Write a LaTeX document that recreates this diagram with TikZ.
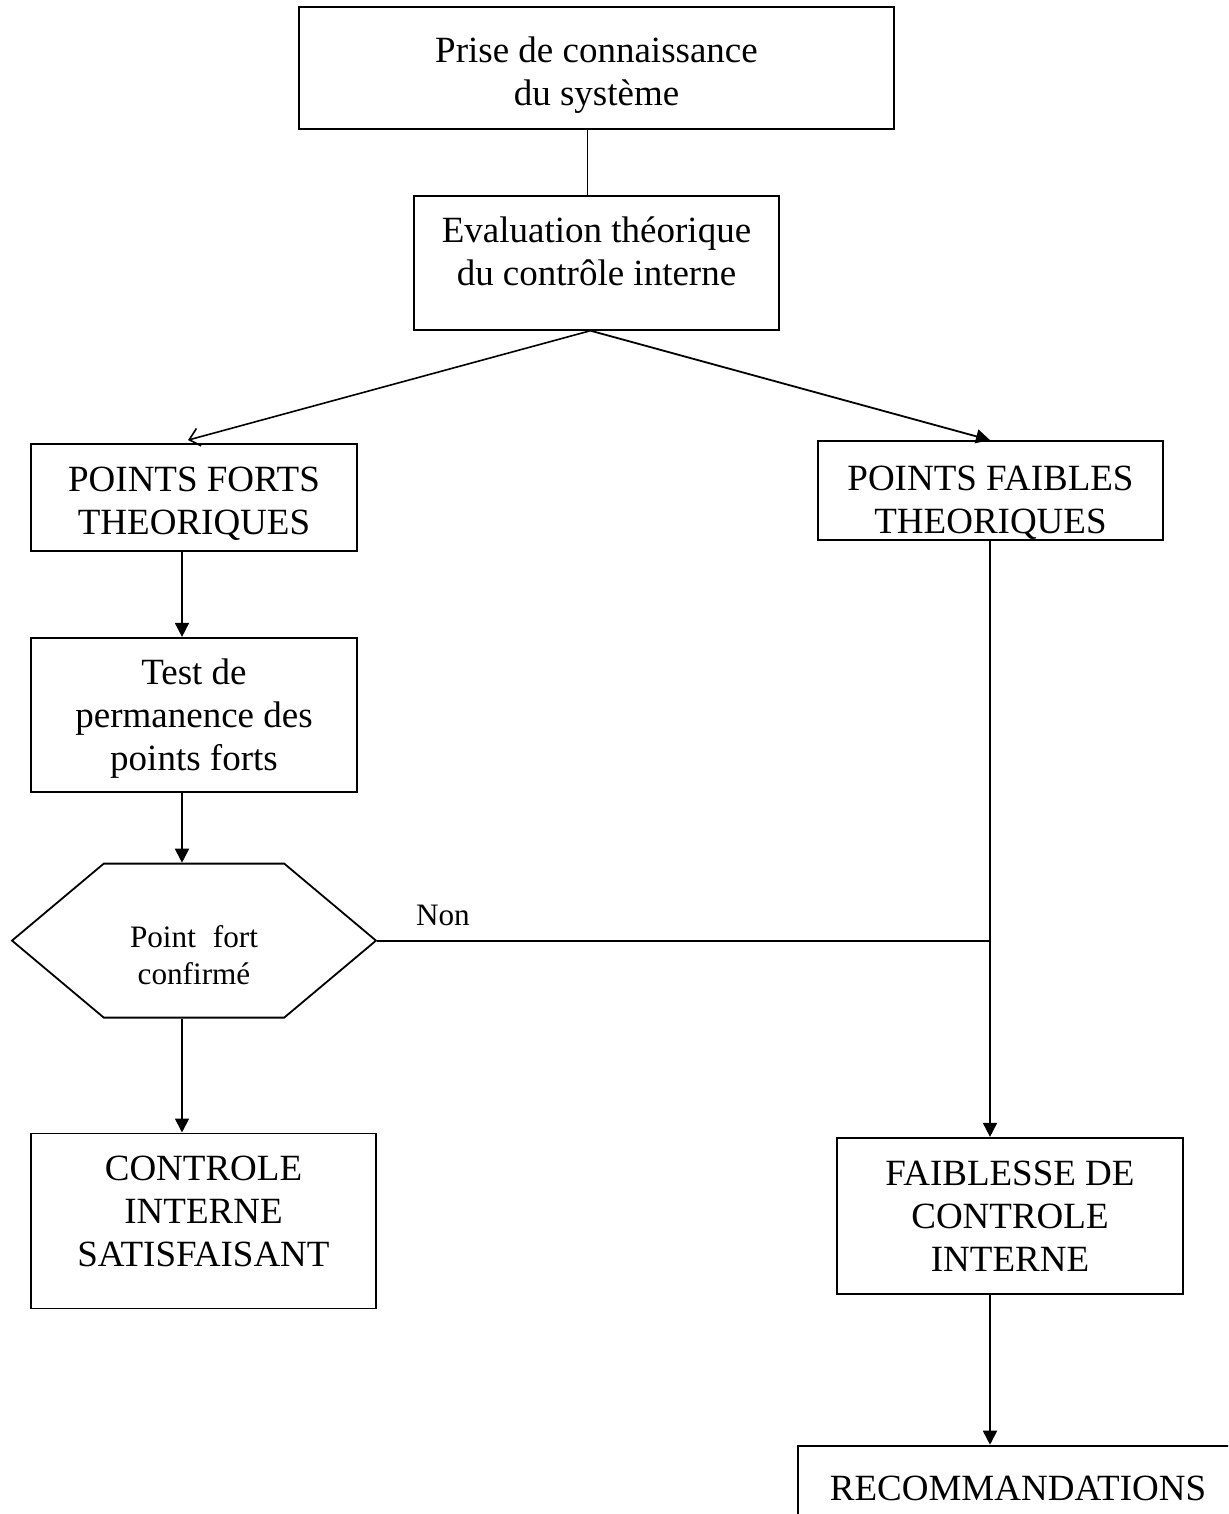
\documentclass[tikz,border=0pt]{standalone}
\usepackage{fontspec}
\setmainfont{Liberation Serif}
\usetikzlibrary{
  arrows.meta,
  positioning, shapes.symbols
}
% text block inside a box, moved up or down without changing its size
\newcommand{\boxtext}[2]{\raisebox{#1}[\height][\depth]{\begin{tabular}{@{}c@{}}#2\end{tabular}}}
\tikzset{
  stepbox/.style={rectangle,draw,line width=0.9pt,align=center,inner sep=2pt,
    font=\fontsize{18.5}{21.5}\selectfont},
  hexbox/.style={signal,signal to=west and east,signal pointer angle=80,draw,
    line width=0.9pt,align=center,inner sep=0pt,minimum width=182pt,minimum height=77pt,
    font=\fontsize{15.6}{18.5}\selectfont},
  arr/.style={-{Triangle[length=7pt,width=7pt]},line width=0.9pt},
  barb/.style={-{Straight Barb[length=5pt,width=9pt]},line width=0.8pt},
  link/.style={line width=0.9pt}
}

\begin{document}
\begin{tikzpicture}[x=0.5pt,y=-0.5pt]
  \clip (0,0) rectangle (1228,1514);

  % column guides
  \coordinate (lcol) at (182,0);
  \coordinate (rcol) at (990,0);

  % top of the chart
  \node[stepbox,minimum width=297.5pt,minimum height=61pt] at (596.5,68)
    (prise) {\boxtext{-3.5pt}{Prise de connaissance\\du système}};
  \node[stepbox,minimum width=182.5pt,minimum height=67pt,below=32.5pt of prise]
    (eval) {\boxtext{3.5pt}{Evaluation théorique\\du contrôle interne}};

  \draw[link] ([xshift=-4.5pt]prise.south) -- ([xshift=-4.5pt]eval.north);

  % left column: points forts
  \node[stepbox,minimum width=163pt,minimum height=53.5pt] at (194,497.5)
    (pfort) {\boxtext{-3.5pt}{POINTS FORTS\\THEORIQUES}};
  \node[stepbox,minimum width=163pt,minimum height=77pt,below=42.5pt of pfort]
    (test) {\boxtext{-2pt}{Test de\\permanence des\\points forts}};
  \node[hexbox,below=35pt of test] (conf) {\boxtext{-9pt}{Point\hspace{8.5pt}fort\\confirmé}};
  \node[stepbox,minimum width=172.5pt,minimum height=87.5pt,below=57pt of conf,xshift=4.75pt]
    (ctrl) {\boxtext{3pt}{CONTROLE\\INTERNE\\SATISFAISANT}};

  \draw[barb] ([xshift=-3pt]eval.south) -- ([xshift=-3pt,yshift=1.5pt]pfort.north);
  \draw[arr] (pfort.south -| lcol) -- (test.north -| lcol);
  \draw[arr] (test.south -| lcol) -- (conf.north -| lcol);
  \draw[arr] (conf.south -| lcol) -- (ctrl.north -| lcol);

  % right column: points faibles
  \node[stepbox,minimum width=172.5pt,minimum height=49.5pt] at (990.5,490.5)
    (pfai) {\boxtext{-6.5pt}{POINTS FAIBLES\\THEORIQUES}};
  \node[stepbox,minimum width=173pt,minimum height=78pt,below=298pt of pfai,xshift=9.75pt]
    (faib) {FAIBLESSE DE\\CONTROLE\\INTERNE};
  \node[stepbox,minimum width=220pt,minimum height=43pt,below=75pt of faib,xshift=4pt]
    (reco) {RECOMMANDATIONS};

  \draw[arr] ([xshift=-3pt]eval.south) -- (pfai.north -| rcol);
  \draw[arr] (pfai.south -| rcol) -- (faib.north -| rcol);
  \draw[arr] (faib.south -| rcol) -- (reco.north -| rcol);

  \draw[link] (conf.east) -- (conf.east -| rcol)
    node[pos=0.107,above=3.5pt,font=\fontsize{15.6}{18.5}\selectfont] {Non};

\end{tikzpicture}
\end{document}
